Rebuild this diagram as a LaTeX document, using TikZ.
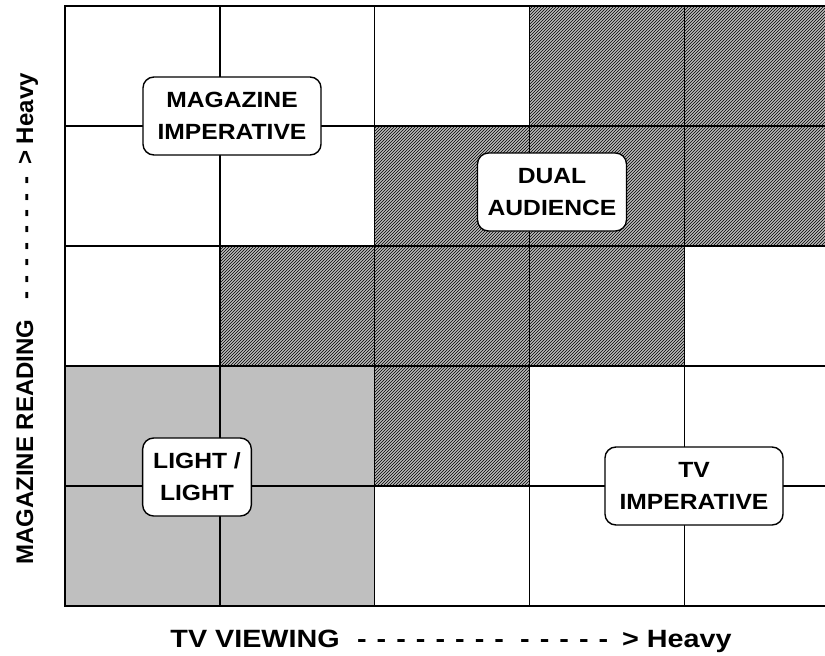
\documentclass[tikz,border=0pt]{standalone}
\usepackage{fontspec}
\setmainfont{Liberation Sans}
\usetikzlibrary{patterns}

\newcommand{\dashrun}[1]{-\foreach \i in {2,...,#1}{\hspace{0.35em}-}}

\begin{document}
\begin{tikzpicture}[x=1pt, y=-1pt, line width=1.4pt,
                    quad box/.style={draw, fill=white, rounded corners=11pt, align=center,
                      inner sep=0pt, minimum height=78pt, xscale=1.12,
                      font=\fontsize{22}{32}\selectfont\bfseries},
                    axis label/.style={anchor=base, font=\fontsize{25}{30}\selectfont\bfseries},
                    dual cell/.style={pattern=north east lines, pattern color=black},
                    light cell/.style={fill=gray!50}]

  \useasboundingbox (0,0) rectangle (825,656);
  \begin{scope}
    \clip (0,0) rectangle (825,656);
    % shaded cells, column/row counted from the top left
    \foreach \c/\r in {3/0,4/0,2/1,3/1,4/1,1/2,2/2,3/2,2/3} {
      \fill[gray!55] ({65+154.8*\c},{6+120*\r}) rectangle ++(154.8,120);
      \fill[dual cell] ({65+154.8*\c},{6+120*\r}) rectangle ++(154.8,120);
    }
    \foreach \c/\r in {0/3,1/3,0/4,1/4}
      \fill[light cell] ({65+154.8*\c},{6+120*\r}) rectangle ++(154.8,120);
    \foreach \c in {0,...,4}
      \foreach \r in {0,...,4}
        \draw ({65+154.8*\c},{6+120*\r}) rectangle ++(154.8,120);
  \end{scope}

  \node[quad box, minimum width=159pt] (magimp) at (232,116) {MAGAZINE\\IMPERATIVE};
  \node[quad box, minimum width=133pt] (dual)   at (552,192) {DUAL\\AUDIENCE};
  \node[quad box, minimum width=97pt]  (light)  at (197,477) {LIGHT /\\LIGHT};
  \node[quad box, minimum width=159pt] (tvimp)  at (694,486) {TV\\IMPERATIVE};

  \node[axis label, xscale=1.15] (tvaxis) at (451,647)
    {TV VIEWING\hspace{15pt}\dashrun{8}\hspace{14pt}\dashrun{5}\hspace{12pt}> Heavy};
  \node[axis label, rotate=90, font=\fontsize{24}{30}\selectfont\bfseries] (magaxis) at (33,319)
    {MAGAZINE READING\hspace{20pt}\dashrun{8}\hspace{12pt}> Heavy};
\end{tikzpicture}
\end{document}
